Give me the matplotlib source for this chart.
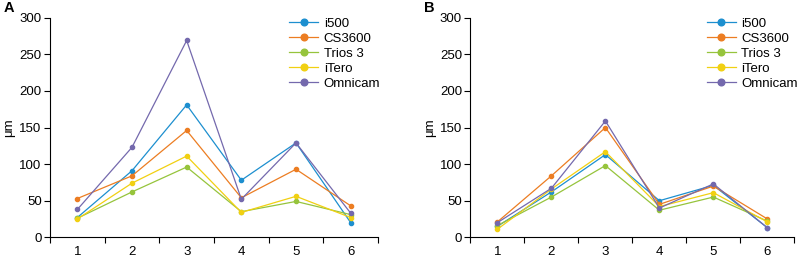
import numpy as np
import matplotlib
matplotlib.use('Agg')
import matplotlib.pyplot as plt

plt.rcParams['font.family'] = ['Liberation Sans', 'DejaVu Sans']

# 数据：两个面板，各 5 个扫描仪，6 个位置
positions = [1, 2, 3, 4, 5, 6]
scanners = ['i500', 'CS3600', 'Trios 3', 'iTero', 'Omnicam']
colors = ['#1d8fcf', '#ec7d22', '#96c43c', '#f1d012', '#7469ad']

a_i500 = [27, 91, 181, 78, 129, 20]
a_cs3600 = [53, 84, 146, 54, 93, 43]
a_trios3 = [26, 62, 96, 35, 49, 31]
a_itero = [25, 74, 111, 34, 56, 27]
a_omnicam = [38, 123, 269, 52, 129, 33]

b_i500 = [15, 62, 113, 50, 71, 13]
b_cs3600 = [21, 84, 150, 45, 70, 25]
b_trios3 = [16, 55, 98, 37, 55, 22]
b_itero = [11, 66, 117, 42, 61, 21]
b_omnicam = [20, 67, 159, 40, 73, 13]

panels = [
    ('A', [a_i500, a_cs3600, a_trios3, a_itero, a_omnicam]),
    ('B', [b_i500, b_cs3600, b_trios3, b_itero, b_omnicam]),
]

fig = plt.figure(figsize=(8, 2.57), dpi=100)
boxes = [(0.0625, 0.0767, 0.41, 0.854), (0.588, 0.0767, 0.405, 0.854)]
tag_x = [0.004, 0.53]
fs = 9.5

for (tag, series), box, tx in zip(panels, boxes, tag_x):
    ax = fig.add_axes(box)
    for name, vals, c in zip(scanners, series, colors):
        ax.plot(positions, vals, color=c, lw=0.9, marker='o', ms=3,
                label=name)
    ax.set_xlim(0.5, 6.5)
    ax.set_ylim(0, 300)
    ax.set_xticks(positions)
    ax.set_xticks(np.arange(0.5, 7, 1), minor=True)
    ax.tick_params(axis='x', which='major', length=0, pad=6, labelsize=fs)
    ax.tick_params(axis='x', which='minor', length=4, width=0.8)
    ax.tick_params(axis='y', length=4, width=0.8, labelsize=fs, pad=2)
    ax.set_yticks(range(0, 301, 50))
    for s in ['top', 'right']:
        ax.spines[s].set_visible(False)
    for s in ['left', 'bottom']:
        ax.spines[s].set_linewidth(0.8)
    ax.set_ylabel('μm', fontsize=fs, labelpad=3)
    ax.legend(loc='upper left', bbox_to_anchor=(0.73, 1.0),
              frameon=False, fontsize=fs, markerscale=1.6,
              borderpad=0, borderaxespad=0,
              handlelength=2.2, handletextpad=0.4, labelspacing=0.2)
    fig.text(tx, 0.995, tag, fontsize=10.5, fontweight='bold',
             ha='left', va='top')

fig.savefig('out.png', dpi=100)
